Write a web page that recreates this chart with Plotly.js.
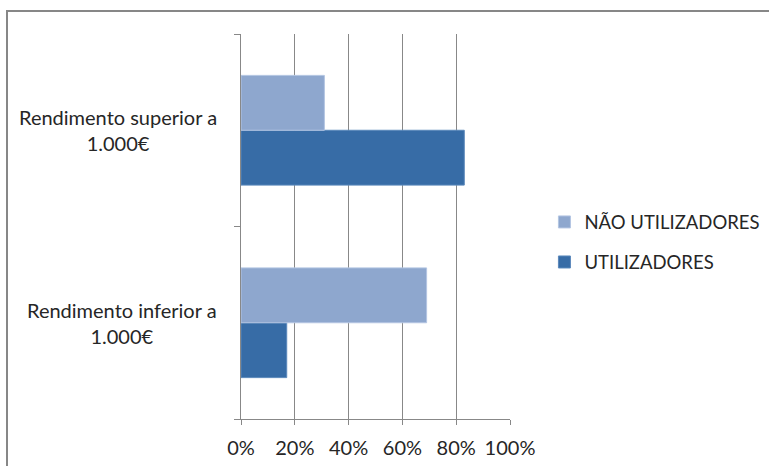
<!DOCTYPE html>
<html>
<head>
<meta charset="utf-8">
<script src="https://cdn.plot.ly/plotly-3.0.1.min.js"></script>
<style>
  html, body { margin: 0; padding: 0; background: #fff; }
  #wrap { position: relative; width: 769px; height: 466px; overflow: hidden; }
  #chart { position: absolute; left: 0; top: 0; width: 769px; height: 466px; }
  /* chart-area frame: only top and left edges fall inside the view */
  .frame-top { position: absolute; left: 7px; top: 10px; width: 762px; height: 2px; background: #878787; }
  .frame-left { position: absolute; left: 6px; top: 10px; width: 2px; height: 456px; background: #878787; }
</style>
</head>
<body>
<div id="wrap">
  <div id="chart"></div>
  <div class="frame-top"></div>
  <div class="frame-left"></div>
</div>
<script>
// Income brackets (bottom to top on the chart)
const categories = ["Rendimento inferior a 1.000€", "Rendimento superior a 1.000€"];
const categoryLabels = ["Rendimento inferior a<br>1.000€", "Rendimento superior a<br>1.000€"];

// Share of each group per income bracket (%)
const seriesNames = ["UTILIZADORES", "NÃO UTILIZADORES"];
const utilizadores = [17, 83];
const naoUtilizadores = [69, 31];

const xTickValues = [0, 20, 40, 60, 80, 100];
const xTickLabels = ["0%", "20%", "40%", "60%", "80%", "100%"];

const colors = { util: "#376CA6", nao: "#8EA7CE" };
const font = "Lato, 'Open Sans', sans-serif";
const textSize = 20;
const legendSize = 18.5;

const traces = [
  {
    type: "bar", orientation: "h",
    name: seriesNames[0], legendgroup: "u", legendrank: 2,
    y: categories, x: utilizadores,
    marker: { color: colors.util, line: { color: "#5A88BB", width: 1 } },
    hoverinfo: "x+name"
  },
  {
    type: "bar", orientation: "h",
    name: seriesNames[1], legendgroup: "n", legendrank: 1,
    y: categories, x: naoUtilizadores,
    marker: { color: colors.nao, line: { color: "#B3C5E2", width: 1 } },
    hoverinfo: "x+name"
  }
];

const annotations = categories.map((c, i) => ({
  xref: "paper", yref: "y",
  x: -0.08, y: c,
  xanchor: "right", yanchor: "middle",
  text: categoryLabels[i],
  showarrow: false,
  align: "center",
  font: { family: font, size: textSize, color: "#262626" }
}));

const layout = {
  width: 769, height: 466,
  margin: { l: 241, r: 259, t: 34, b: 47, autoexpand: false },
  paper_bgcolor: "#fff", plot_bgcolor: "#fff",
  barmode: "group",
  bargap: 0.43, bargroupgap: 0,
  showlegend: true,
  legend: {
    x: 1.128, y: 0.56, xanchor: "left", yanchor: "top",
    traceorder: "grouped",
    tracegroupgap: 13,
    font: { family: font, size: legendSize, color: "#262626" },
    bgcolor: "rgba(0,0,0,0)"
  },
  xaxis: {
    range: [0, 100],
    tickvals: xTickValues, ticktext: xTickLabels,
    showgrid: true, gridcolor: "#888", gridwidth: 1,
    zeroline: false,
    showline: true, linecolor: "#888", linewidth: 1,
    ticks: "outside", ticklen: 5, tickcolor: "#888",
    ticklabelstandoff: 6,
    tickfont: { family: font, size: textSize, color: "#262626" },
    fixedrange: true
  },
  yaxis: {
    type: "category",
    categoryorder: "array", categoryarray: categories,
    showticklabels: false,
    showgrid: false, zeroline: false,
    showline: true, linecolor: "#888", linewidth: 1,
    ticks: "outside", tickson: "boundaries", ticklen: 6, tickcolor: "#888",
    fixedrange: true
  },
  annotations: annotations,
  font: { family: font }
};

Plotly.newPlot("chart", traces, layout, { displayModeBar: false, staticPlot: true });
</script>
</body>
</html>
